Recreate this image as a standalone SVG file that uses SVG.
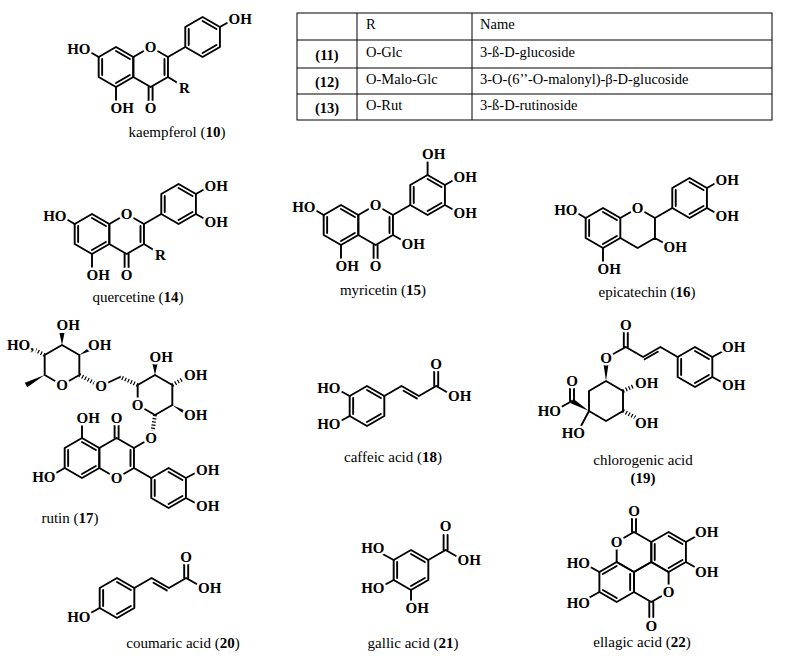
<svg xmlns="http://www.w3.org/2000/svg" xmlns:xlink="http://www.w3.org/1999/xlink" width="785" height="658" viewBox="0 0 785 658">
<style>
.b{stroke:#000;stroke-width:1.9;fill:none;stroke-linecap:round;stroke-linejoin:round}
.h{stroke:#000;stroke-width:4;stroke-dasharray:1.2 2;fill:none}
.w{fill:#000;stroke:none}
.a{font-family:"Liberation Serif",serif;font-weight:bold;font-size:15px;fill:#000;stroke:#fff;stroke-width:5px;stroke-linejoin:round;paint-order:stroke}
.m{text-anchor:middle}.e{text-anchor:end}
.c{font-family:"Liberation Serif",serif;font-size:15px;fill:#000;text-anchor:middle}
.t{font-family:"Liberation Serif",serif;font-size:14.5px;fill:#000}
.tb{font-family:"Liberation Serif",serif;font-size:14.5px;font-weight:bold;fill:#000;text-anchor:middle}
.g{stroke:#000;stroke-width:1;fill:none}
</style>
<defs>
<polygon id="hx" points="0,-20 17.32,-10 17.32,10 0,20 -17.32,10 -17.32,-10"/>
<g id="flav">
<use href="#hx" class="b"/><use href="#hx" x="34.64" class="b"/><use href="#hx" x="86.6" y="-30" class="b"/>
<path class="b" d="M-13.86,-8V8M0,-16L13.86,-8M13.86,8L0,16M48.5,-8V8M86.6,-46L100.46,-38M100.46,-22L86.6,-14M72.74,-22V-38M51.96,-10L69.28,-20M32.6,20V35M36.6,20V35M0,20V35M-17.32,-10L-31,-18"/>
<text class="a m" x="34.64" y="46">O</text>
<text class="a" x="-5.5" y="46">OH</text>
<text class="a e" x="-25.5" y="-13">HO</text>
<text class="a m" x="34.64" y="-15">O</text>
</g>
</defs>
<rect width="785" height="658" fill="#fff"/>

<g id="table">
<rect class="g" x="297" y="13" width="475" height="107"/>
<path class="g" d="M297,40H772M297,68H772M297,94H772M357,13V120M472,13V120"/>
<text class="t" x="366" y="29">R</text><text class="t" x="480" y="29">Name</text>
<text class="tb" x="327" y="60">(11)</text><text class="t" x="366" y="57">O-Glc</text><text class="t" x="480" y="57">3-ß-D-glucoside</text>
<text class="tb" x="327" y="87">(12)</text><text class="t" x="366" y="84">O-Malo-Glc</text><text class="t" x="480" y="84">3-O-(6’’-O-malonyl)-β-D-glucoside</text>
<text class="tb" x="327" y="113">(13)</text><text class="t" x="366" y="110">O-Rut</text><text class="t" x="480" y="110">3-ß-D-rutinoside</text>
</g>

<g id="kaempferol" transform="translate(116,67)">
<use href="#flav"/>
<path class="b" d="M51.96,10L65,18M103.92,-40L118,-48"/>
<text class="a" x="63" y="26">R</text>
<text class="a" x="112.5" y="-43">OH</text>
</g>
<text class="c" x="177" y="137">kaempferol (<tspan font-weight="bold">10</tspan>)</text>

<g id="quercetin" transform="translate(92,234)">
<use href="#flav"/>
<path class="b" d="M51.96,10L65,18M103.92,-40L118,-48M103.92,-20L118,-12"/>
<text class="a" x="63" y="26">R</text>
<text class="a" x="112.5" y="-43">OH</text>
<text class="a" x="112.5" y="-7">OH</text>
</g>
<text class="c" x="138" y="302">quercetine (<tspan font-weight="bold">14</tspan>)</text>

<g id="myricetin" transform="translate(341,225)">
<use href="#flav"/>
<path class="b" d="M86.6,-50V-63M103.92,-40L118,-48M103.92,-20L118,-12M51.96,10L66,18"/>
<text class="a" x="81" y="-66">OH</text>
<text class="a" x="112.5" y="-43">OH</text>
<text class="a" x="112.5" y="-7">OH</text>
<text class="a" x="60.5" y="24">OH</text>
</g>
<text class="c" x="383" y="295">myricetin (<tspan font-weight="bold">15</tspan>)</text>

<g id="epicatechin" transform="translate(603,228)">
<use href="#hx" class="b"/><use href="#hx" x="86.6" y="-30" class="b"/>
<path class="b" d="M17.32,-10L34.64,-20L51.96,-10V10L34.64,20L17.32,10M-13.86,-8V8M0,-16L13.86,-8M13.86,8L0,16M86.6,-46L100.46,-38M100.46,-22L86.6,-14M72.74,-22V-38M51.96,-10L69.28,-20M0,20V35M-17.32,-10L-31,-18M103.92,-40L118,-48M103.92,-20L118,-12M51.96,10L66,18"/>
<text class="a" x="-5.5" y="46">OH</text>
<text class="a e" x="-25.5" y="-13">HO</text>
<text class="a m" x="34.64" y="-15">O</text>
<text class="a" x="112.5" y="-43">OH</text>
<text class="a" x="112.5" y="-7">OH</text>
<text class="a" x="60.5" y="24">OH</text>
</g>
<text class="c" x="647" y="297">epicatechin (<tspan font-weight="bold">16</tspan>)</text>

<g id="rutin">
<use href="#hx" x="82" y="458" class="b"/><use href="#hx" x="116.64" y="458" class="b"/><use href="#hx" x="168.6" y="488" class="b"/>
<path class="b" d="M68.14,450V466M82,442L95.86,450M95.86,466L82,474M130.5,450V466M114.6,438V424M118.6,438V424M82,438V425M64.68,468L50,476.5M133.96,448L151,438M133.96,468L151.28,478M168.6,472L182.46,480M182.46,496L168.6,504M154.74,496V480M185.9,478L201,470M185.9,498L201,506"/>
<use href="#hx" x="155" y="395" class="b"/>
<use href="#hx" x="62" y="365" class="b"/>
<path class="h" d="M155,415L152,435M172.3,385L188,376M137.7,385L120,377M79.3,375L100,386M44.7,355L35,350"/>
<path class="b" d="M120,377L101,386"/>
<polygon class="w" points="172.3,405 190.3,412.9 187.7,417.1"/>
<polygon class="w" points="155,375 152.5,364 157.5,364"/>
<polygon class="w" points="62,345 59.5,333 64.5,333"/>
<polygon class="w" points="79.3,355 95.2,349.2 92.8,344.8"/>
<polygon class="w" points="44.7,375 27.2,387.2 24.8,382.8"/>
<text class="a m" x="116.64" y="423">O</text>
<text class="a" x="76.5" y="423">OH</text>
<text class="a e" x="55.5" y="482">HO</text>
<text class="a m" x="116.64" y="483">O</text>
<text class="a m" x="151" y="443">O</text>
<text class="a" x="196" y="475">OH</text>
<text class="a" x="196" y="511">OH</text>
<text class="a m" x="137.7" y="410">O</text>
<text class="a" x="184" y="420">OH</text>
<text class="a" x="184" y="380">OH</text>
<text class="a" x="149.5" y="362">OH</text>
<text class="a m" x="101" y="391">O</text>
<text class="a m" x="62" y="390">O</text>
<text class="a" x="88" y="350">OH</text>
<text class="a" x="56.5" y="330">OH</text>
<text class="a e" x="34" y="350">HO,</text>
</g>
<text class="c" x="70" y="523">rutin (<tspan font-weight="bold">17</tspan>)</text>

<g id="caffeic">
<use href="#hx" x="367" y="406" class="b"/>
<path class="b" d="M367,390L380.86,398M380.86,414L367,422M353.14,414V398M349.7,396L335,388M349.7,416L335,424M384.3,396L401.6,386L418.9,396L436.2,386L453.5,396M403.5,390.7L416.8,398.4M434.2,386V371M438.2,386V371"/>
<text class="a e" x="340.5" y="393">HO</text>
<text class="a e" x="340.5" y="429">HO</text>
<text class="a m" x="436.2" y="369">O</text>
<text class="a" x="448" y="401">OH</text>
</g>
<text class="c" x="393" y="462">caffeic acid (<tspan font-weight="bold">18</tspan>)</text>

<g id="chlorogenic">
<use href="#hx" x="695" y="367" class="b"/>
<path class="b" d="M695,351L708.86,359M708.86,375L695,383M681.14,375V359M712.3,357L727,349M712.3,377L727,385M677.7,357L660.4,347L643.1,357L625.8,347L606,358M657.8,351.7L644.6,359.3M623.8,347V332M627.8,347V332"/>
<path class="b" d="M606,381L623,391V411L606,421L589,411V391Z"/>
<polygon class="w" points="606,381 603.5,364 608.5,364"/>
<path class="h" d="M623,391L638,384M623,411L638,419"/>
<polygon class="w" points="589,411 573.3,398.8 570.7,403.2"/>
<path class="b" d="M570,401V387M574,401V387M572,401L556,410M589,411L581,426"/>
<text class="a" x="722" y="352">OH</text>
<text class="a" x="722" y="390">OH</text>
<text class="a m" x="625.8" y="330">O</text>
<text class="a m" x="606" y="363">O</text>
<text class="a" x="635" y="388">OH</text>
<text class="a" x="635" y="428">OH</text>
<text class="a m" x="572" y="386">O</text>
<text class="a e" x="561" y="416">HO</text>
<text class="a e" x="585" y="438">HO</text>
</g>
<text class="c" x="643" y="465">chlorogenic acid</text>
<text class="c" x="643" y="483" font-weight="bold">(19)</text>

<g id="coumaric">
<use href="#hx" x="117" y="598" class="b"/>
<path class="b" d="M117,582L130.86,590M130.86,606L117,614M103.14,606V590M99.7,608L85,616M134.3,588L151.6,578L168.9,588L186.2,578L203.5,588M153.5,582.7L166.8,590.4M184.2,578V564M188.2,578V564"/>
<text class="a e" x="90.5" y="622">HO</text>
<text class="a m" x="186.2" y="562">O</text>
<text class="a" x="198" y="593">OH</text>
</g>
<text class="c" x="183" y="648">coumaric acid (<tspan font-weight="bold">20</tspan>)</text>

<g id="gallic">
<use href="#hx" x="411" y="570" class="b"/>
<path class="b" d="M411,554L424.86,562M424.86,578L411,586M397.14,578V562M393.7,560L379,552M393.7,580L379,588M411,590V602M428.3,560L445.6,550L462.9,560M443.6,550V535M447.6,550V535"/>
<text class="a e" x="384.5" y="553">HO</text>
<text class="a e" x="384.5" y="593">HO</text>
<text class="a" x="405.5" y="613">OH</text>
<text class="a m" x="445.6" y="531">O</text>
<text class="a" x="457.5" y="565">OH</text>
</g>
<text class="c" x="413" y="648">gallic acid (<tspan font-weight="bold">21</tspan>)</text>

<g id="ellagic">
<use href="#hx" x="634" y="552" class="b"/><use href="#hx" x="668.6" y="552" class="b"/><use href="#hx" x="616.7" y="582" class="b"/><use href="#hx" x="651.3" y="582" class="b"/>
<path class="b" d="M668.6,536L682.46,544M682.46,560L668.6,568M654.74,560V544M602.84,574L616.7,566M630.14,574V590M616.7,598L602.84,590M632,532V518M636,532V518M649.3,602V617M653.3,602V617M685.9,542L700,534M685.9,562L700,570M599.4,572L585,564M599.4,592L585,600"/>
<text class="a m" x="634" y="516">O</text>
<text class="a m" x="651.3" y="631">O</text>
<text class="a m" x="616.7" y="547">O</text>
<text class="a m" x="668.6" y="597">O</text>
<text class="a" x="695" y="537">OH</text>
<text class="a" x="695" y="577">OH</text>
<text class="a e" x="590" y="568">HO</text>
<text class="a e" x="590" y="608">HO</text>
</g>
<text class="c" x="642" y="647">ellagic acid (<tspan font-weight="bold">22</tspan>)</text>
</svg>
